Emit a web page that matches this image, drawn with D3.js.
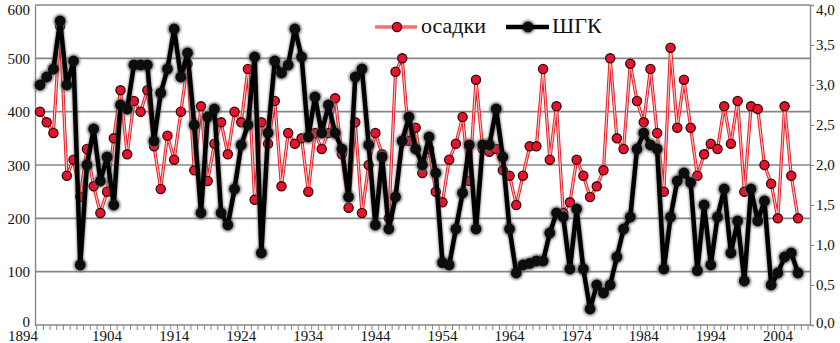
<!DOCTYPE html>
<html><head><meta charset="utf-8">
<script src="https://cdn.jsdelivr.net/npm/d3@7"></script>
<style>
html,body{margin:0;padding:0;background:#fff;}
svg{display:block;}
</style></head>
<body>
<svg id="c" width="840" height="343"></svg>
<script>
const years = d3.range(1894, 2008);
const osadki = [400,380,360,560,280,310,240,330,260,210,
250,350,440,320,420,400,440,335,255,355,
310,400,490,290,410,270,340,380,320,400,
380,480,235,380,340,420,260,360,340,350,
250,360,330,360,425,320,220,380,210,300,
360,320,200,475,500,345,370,285,330,250,
230,310,340,390,270,460,330,325,330,290,
280,225,280,335,335,480,310,410,210,230,
310,280,240,260,290,500,350,330,490,420,
380,480,360,250,520,370,460,370,280,320,
340,330,410,340,420,250,410,405,300,265,
200,410,280,200];
const shgk = [3.0,3.1,3.2,3.8,3.0,3.3,0.75,2.0,2.45,1.8,
2.1,1.5,2.75,2.7,3.25,3.25,3.25,2.3,2.9,3.2,
3.7,3.1,3.4,2.5,1.4,2.6,2.7,1.4,1.25,1.7,
2.25,2.5,3.35,0.9,2.4,3.3,3.15,3.25,3.7,3.35,
2.35,2.85,2.4,2.75,2.4,2.2,1.6,3.1,3.2,2.25,
1.25,2.1,1.2,1.6,2.3,2.6,2.2,2.0,2.35,1.9,
0.78,0.75,1.2,1.65,2.25,1.2,2.25,2.25,2.7,2.1,
1.2,0.65,0.75,0.77,0.8,0.8,1.15,1.4,1.35,0.7,
1.45,0.7,0.2,0.5,0.4,0.5,0.85,1.2,1.35,2.2,
2.4,2.25,2.2,0.7,1.35,1.8,1.9,1.78,0.68,1.5,
0.75,1.35,1.7,0.9,1.3,0.55,1.7,1.3,1.55,0.5,
0.65,0.85,0.9,0.65];
const leftTicks = [0,100,200,300,400,500,600];
const rightTicks = [0,0.5,1,1.5,2,2.5,3,3.5,4];
const yearLabels = [1894,1904,1914,1924,1934,1944,1954,1964,1974,1984,1994,2004];
const seriesNames = ["осадки","ШГК"];

const FONT = "Liberation Serif, Times New Roman, DejaVu Serif, serif";
const svg = d3.select("#c").attr("font-family", FONT);
const L = 35, R = 810, T = 5, B = 325;
const x = d3.scaleLinear().domain([1894, 2007]).range([40, 798]);
const yL = d3.scaleLinear().domain([0, 600]).range([B, T]);
const yR = d3.scaleLinear().domain([0, 4]).range([B, T]);
const grid = "#868686";

const defs = svg.append("defs");
defs.append("filter").attr("id","blur").attr("x","-50%").attr("y","-50%").attr("width","200%").attr("height","200%")
  .append("feGaussianBlur").attr("stdDeviation", 1.3);

// gridlines
svg.append("g").selectAll("line").data(leftTicks.filter(d=>d>0)).join("line")
  .attr("x1", L).attr("x2", R).attr("y1", d=>yL(d)).attr("y2", d=>yL(d))
  .attr("stroke", grid).attr("stroke-width", 1.6);

// left axis
const gL = svg.append("g").attr("transform", `translate(${L},0)`)
  .call(d3.axisLeft(yL).tickValues(leftTicks).tickSize(0).tickPadding(5).tickFormat(d3.format("d")));
gL.attr("font-family", FONT).attr("font-size", 15);
gL.select(".domain").attr("stroke", grid).attr("stroke-width", 1.4);
gL.selectAll("text").attr("fill","#111").attr("dy","0.35em");
gL.selectAll(".tick").filter(d=>d===600).select("text").attr("dy","0.6em");
gL.selectAll(".tick").filter(d=>d===0).select("text").attr("dy","0.1em");

// right axis
const gR = svg.append("g").attr("transform", `translate(${R},0)`)
  .call(d3.axisRight(yR).tickValues(rightTicks).tickSize(4).tickPadding(2).tickFormat(d => d3.format(".1f")(d).replace(".", ",")));
gR.attr("font-family", FONT).attr("font-size", 15);
gR.select(".domain").attr("stroke", grid).attr("stroke-width", 1.4);
gR.selectAll(".tick line").attr("stroke", grid);
gR.selectAll("text").attr("fill","#111");
gR.selectAll(".tick").filter(d=>d===4).select("text").attr("dy","0.6em");
gR.selectAll(".tick").filter(d=>d===0).select("text").attr("dy","0.15em");

// bottom axis with yearly minor ticks
const tickYears = d3.range(1893.5, 2008.6, 1);
const xb = svg.append("g").attr("font-family", FONT).attr("font-size", 15);
xb.append("line").attr("x1", L).attr("x2", R).attr("y1", B).attr("y2", B).attr("stroke", grid).attr("stroke-width", 1.4);
xb.selectAll("line.t").data(tickYears).join("line").attr("class","t")
  .attr("x1", d=>x(d)).attr("x2", d=>x(d)).attr("y1", B).attr("y2", B+5)
  .attr("stroke", grid).attr("stroke-width", 1);
xb.selectAll("text").data(yearLabels).join("text")
  .attr("x", d=> d===1894 ? 23 : x(d)).attr("y", 341)
  .attr("text-anchor","middle").attr("fill","#111").text(d=>d);

const lineL = d3.line().x((d,i)=>x(years[i])).y(d=>yL(d));
const lineR = d3.line().x((d,i)=>x(years[i])).y(d=>yR(d));

// osadki series
svg.append("path").datum(osadki).attr("d", lineL).attr("fill","none")
  .attr("stroke","#e8202a").attr("stroke-width",3.2).attr("stroke-linejoin","round");
svg.append("path").datum(osadki).attr("d", lineL).attr("fill","none")
  .attr("stroke","#ffc4c4").attr("stroke-width",1.1).attr("stroke-linejoin","round");
svg.append("g").selectAll("circle").data(osadki).join("circle")
  .attr("cx",(d,i)=>x(years[i])).attr("cy",d=>yL(d)).attr("r",4.6)
  .attr("fill","#e5142c").attr("stroke","#3a0508").attr("stroke-width",1.3);

// ШГК series
svg.append("path").datum(shgk).attr("d", lineR).attr("fill","none")
  .attr("stroke","#555").attr("stroke-opacity",0.6).attr("stroke-width",6).attr("filter","url(#blur)").attr("stroke-linejoin","round");
svg.append("g").selectAll("circle").data(shgk).join("circle")
  .attr("cx",(d,i)=>x(years[i])).attr("cy",d=>yR(d)).attr("r",7)
  .attr("fill","#666").attr("opacity",0.75).attr("filter","url(#blur)");
svg.append("path").datum(shgk).attr("d", lineR).attr("fill","none")
  .attr("stroke","#000").attr("stroke-width",4.5).attr("stroke-linejoin","round");
svg.append("g").selectAll("circle").data(shgk).join("circle")
  .attr("cx",(d,i)=>x(years[i])).attr("cy",d=>yR(d)).attr("r",5.4)
  .attr("fill","#0d0d0d");

// legend
const lg = svg.append("g").attr("font-family", FONT).attr("font-size", 22);
const ly = 27;
lg.append("rect").attr("x",370).attr("y",12).attr("width",232).attr("height",30).attr("fill","#fff");
lg.append("line").attr("x1",375).attr("x2",417).attr("y1",ly).attr("y2",ly).attr("stroke","#e8202a").attr("stroke-width",3.2);
lg.append("line").attr("x1",375).attr("x2",417).attr("y1",ly).attr("y2",ly).attr("stroke","#ffc4c4").attr("stroke-width",1.1);
lg.append("circle").attr("cx",397).attr("cy",ly).attr("r",4.6).attr("fill","#e5142c").attr("stroke","#3a0508").attr("stroke-width",1.3);
lg.append("text").attr("x",421).attr("y",ly+6).attr("fill","#111").text(seriesNames[0]);
lg.append("circle").attr("cx",528).attr("cy",ly).attr("r",7).attr("fill","#666").attr("opacity",0.75).attr("filter","url(#blur)");
lg.append("line").attr("x1",506).attr("x2",549).attr("y1",ly).attr("y2",ly).attr("stroke","#000").attr("stroke-width",4.5);
lg.append("circle").attr("cx",528).attr("cy",ly).attr("r",5.4).attr("fill","#0d0d0d");
lg.append("text").attr("x",552).attr("y",ly+6).attr("fill","#111").text(seriesNames[1]);
</script>
</body></html>
